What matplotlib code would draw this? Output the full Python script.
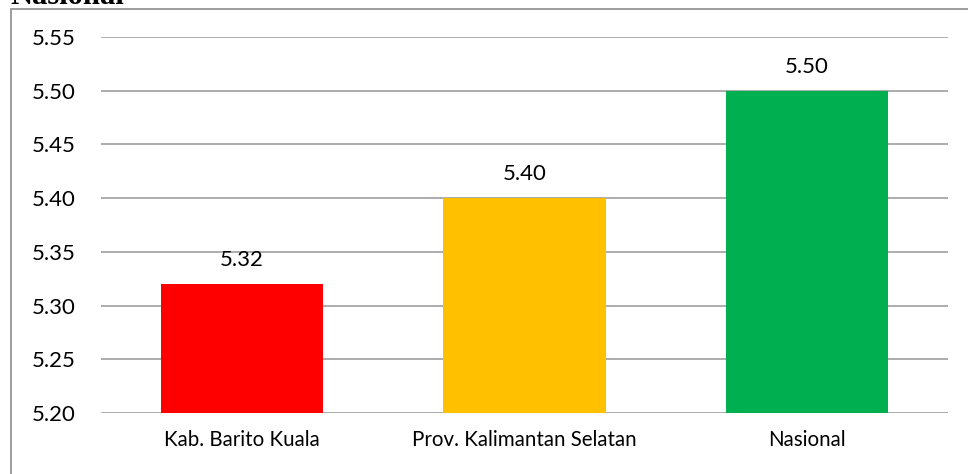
import matplotlib.pyplot as plt
from matplotlib.patches import Rectangle

categories = ['Kab. Barito Kuala', 'Prov. Kalimantan Selatan', 'Nasional']
values = [5.32, 5.40, 5.50]
colors = ['#ff0000', '#ffc000', '#00b050']
yticks = [5.20, 5.25, 5.30, 5.35, 5.40, 5.45, 5.50, 5.55]

plt.rcParams['font.family'] = ['Lato', 'DejaVu Sans']

fig = plt.figure(figsize=(9.68, 4.74), dpi=100)
W, H = 968, 474

# outer chart frame (partly outside the image)
fig.patches.append(Rectangle((11 / W, -0.1), 1.2, 1 - 9 / H + 0.1,
                             transform=fig.transFigure, fill=False,
                             edgecolor='#8c8c8c', linewidth=1.2))
fig.text(10 / W, 1 - 3.5 / H, 'Nasional', family='Liberation Serif',
         fontweight='bold', fontsize=22, va='baseline', ha='left')

ax = fig.add_axes([101 / W, 1 - 413 / H, 847 / W, 376 / H])
x = range(len(categories))
bars = ax.bar(x, values, width=0.575, color=colors, zorder=2)
ax.set_ylim(5.20, 5.55)
ax.set_xlim(-0.5, 2.5)
ax.set_yticks(yticks)
ax.set_yticklabels([f'{v:.2f}' for v in yticks], fontsize=16)
ax.set_xticks(list(x))
ax.set_xticklabels(categories, fontsize=14.8)
ax.tick_params(length=0)
ax.tick_params(axis='y', pad=18)
ax.tick_params(axis='x', pad=12)
ax.grid(axis='y', color='#a6a6a6', linewidth=1.3, zorder=1)
for s in ax.spines.values():
    s.set_visible(False)

for b, v in zip(bars, values):
    ax.annotate(f'{v:.2f}', (b.get_x() + b.get_width() / 2, v),
                xytext=(0, 10), textcoords='offset points',
                ha='center', va='bottom', fontsize=16)

fig.savefig('out.png', dpi=100)
